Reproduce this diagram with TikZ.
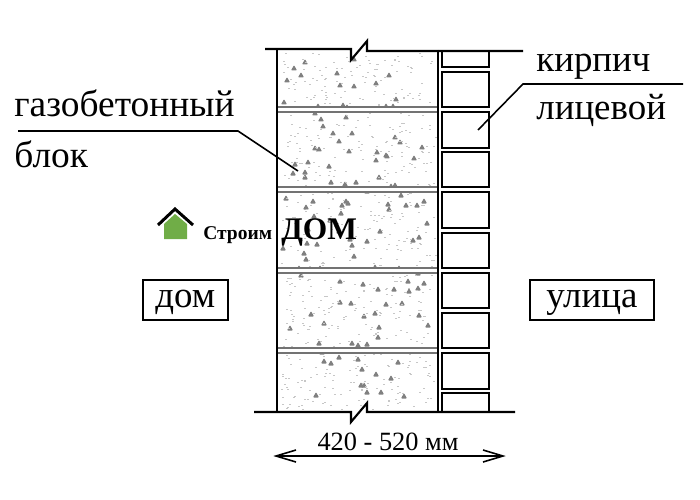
\documentclass[tikz,border=0pt]{standalone}
\usepackage{fontspec}
\setmainfont{Liberation Serif}
\definecolor{logogreen}{HTML}{70AD47}
\tikzset{
  x=0.02cm,y=-0.02cm,
  wall/.style={line width=1.2pt,black},
  thin leader/.style={line width=0.9pt,black},
  brickbox/.style={draw=black,line width=1.1pt},
  mortar/.style={draw=black!55,line width=0.8pt},
  labeltext/.style={inner sep=0pt,anchor=base west,font=\fontsize{21.3}{24}\selectfont},
  framed/.style={draw=black,line width=1pt,inner sep=0pt,fill=white,anchor=north west,
    text height=0.56cm,text depth=0.24cm,align=center,font=\fontsize{21}{24}\selectfont},
}
\begin{document}
\begin{tikzpicture}
\useasboundingbox (0,0) rectangle (700,500);
% texture
\pgfmathsetseed{4217}
\foreach \i in {1,...,125}{
  \pgfmathsetmacro{\px}{283+random(0,148)}
  \pgfmathsetmacro{\py}{56+random(0,348)}
  \fill[black!50,rounded corners=0.5pt] (\px-3,\py+2.5) -- (\px+3,\py+2.5) -- (\px,\py-3) -- cycle;
}
\foreach \i in {1,...,700}{
  \pgfmathsetmacro{\px}{281+random(0,154)}
  \pgfmathsetmacro{\py}{53+random(0,356)}
  \fill[black!22] (\px,\py) rectangle (\px+2,\py+1.2);
}
% mortar joints
\foreach \ya/\yb in {107/112,187/192,268/273,348/353}{
  \fill[white] (278,\ya) rectangle (436,\yb);
  \draw[mortar] (277,\ya) -- (437,\ya);
  \draw[mortar] (277,\yb) -- (437,\yb);
}
% bricks
\foreach \ya/\yb in {51/67,72/107,112/148,152/187,192/228,233/268,273/308,313/348,353/389,393/412}{
  \draw[brickbox] (442,\ya) rectangle (489,\yb);
}
% walls
\draw[wall] (277,49) -- (277,412);
\draw[line width=1.7pt] (438,50) -- (438,412);
\draw[wall] (265,49) -- (351,49) -- (351,60) -- (367,41) -- (367,51) -- (523,51);
\draw[wall] (254,412) -- (351,412) -- (351,422) -- (367,403) -- (367,412) -- (515,412);
% leaders
\coordinate (gazstart) at (18,131);
\coordinate (gazknee) at (238,131);
\coordinate (gazend) at (298,171);
\coordinate (brickstart) at (683,84);
\coordinate (brickknee) at (523,84);
\coordinate (brickend) at (478,130);
\draw[thin leader] (gazstart) -- (gazknee) -- (gazend);
\draw[thin leader] (brickstart) -- (brickknee) -- (brickend);
% dimension
\coordinate (dimL) at (276,456);
\coordinate (dimR) at (503,456);
\draw[thin leader] (dimL) -- (dimR);
\draw[thin leader] (296,450) -- (dimL) -- (296,462);
\draw[thin leader] (483,450) -- (dimR) -- (483,462);
\node[anchor=base,inner sep=0pt,font=\fontsize{15}{18}\selectfont] (dimtext) at (388,450) {420 - 520 мм};
% labels
\node[labeltext] (gaz1) at (14,117) {газобетонный};
\node[labeltext] (gaz2) at (14,168) {блок};
\node[labeltext,font=\fontsize{21}{24}\selectfont] (kir1) at (536,72) {кирпич};
\node[labeltext,font=\fontsize{21}{24}\selectfont] (kir2) at (536,120) {лицевой};
\node[framed,minimum width=1.7cm] (dom) at (142,279) {дом};
\node[framed,minimum width=2.48cm] (street) at (529,279) {улица};
% logo
\fill[logogreen] (164,239) -- (164,224) -- (175,214) -- (187,224) -- (187,239) -- cycle;
\draw[line width=1.7pt,black] (158,225) -- (175,209) -- (193,225);
\node[anchor=base west,inner sep=0pt,font=\bfseries\fontsize{11.1}{13}\selectfont] (logo1) at (203,239) {Строим};
\node[anchor=base west,inner sep=0pt,font=\bfseries\fontsize{17.9}{20}\selectfont] (logo2) at (281,239) {ДОМ};
\end{tikzpicture}
\end{document}
